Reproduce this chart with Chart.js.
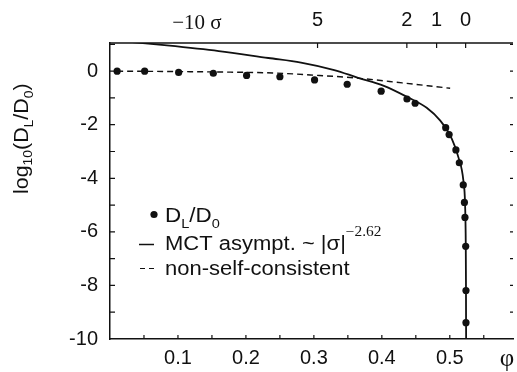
<!DOCTYPE html>
<html>
<head>
<meta charset="utf-8">
<script src="https://cdn.jsdelivr.net/npm/chart.js@4"></script>
<style>
  body { margin: 0; background: #fff; }
  canvas { display: block; }
</style>
</head>
<body>
<canvas id="c" width="517" height="372"></canvas>
<script>
// measured points D_L/D_0
const phiData = [0.0105, 0.051, 0.101, 0.152, 0.201, 0.250, 0.301, 0.349, 0.399, 0.437, 0.449, 0.494, 0.499, 0.509, 0.514, 0.5198, 0.5215, 0.5223, 0.5234, 0.5238, 0.5238];
const logData = [0.0, 0.0, -0.05, -0.08, -0.16, -0.21, -0.33, -0.49, -0.75, -1.04, -1.20, -2.11, -2.37, -2.94, -3.42, -4.25, -4.90, -5.46, -6.54, -8.19, -9.39];

// MCT asymptote (solid)
const mctPhi = [0.0, 0.08, 0.16, 0.233, 0.281, 0.330, 0.364, 0.403, 0.437, 0.466, 0.486, 0.503, 0.5127, 0.520, 0.5225, 0.5235, 0.5238, 0.524];
const mctLog = [1.16, 0.97, 0.75, 0.49, 0.32, 0.04, -0.24, -0.55, -0.96, -1.37, -1.85, -2.53, -3.22, -4.09, -5.0, -6.5, -8.0, -10.0];

// non-self-consistent (dashed)
const ncPhi = [0.0105, 0.15, 0.24, 0.30, 0.364, 0.43, 0.5005];
const ncLog = [0.0, -0.03, -0.07, -0.15, -0.26, -0.44, -0.64];

// axes
const xTickValues = [0.1, 0.2, 0.3, 0.4, 0.5];
const yTickValues = [-10, -8, -6, -4, -2, 0];
const topTickLabels = ['5', '2', '1', '0'];
const topTickPhi = [0.3054, 0.4368, 0.4806, 0.5233];
const topTitle = '\u221210 \u03c3';
const topTitlePhi = 0.128;

const ink = '#111';
const sans = '"Liberation Sans", Arial, Helvetica, sans-serif';
const serif = '"Liberation Serif", "Times New Roman", serif';

function pts(xs, ys) {
    return xs.map((x, i) => ({ x: x, y: ys[i] }));
}

// draws a run of text pieces (with sub/superscripts), slightly widened like the scan
function richText(ctx, x, y, parts, sx) {
    ctx.save();
    ctx.translate(x, y);
    ctx.scale(sx || 1, 1);
    let cx = 0;
    parts.forEach(p => {
        ctx.font = (p.size || 20) + 'px ' + (p.font || sans);
        ctx.fillText(p.t, cx, p.dy || 0);
        cx += ctx.measureText(p.t).width;
    });
    ctx.restore();
}

const decor = {
    id: 'decor',
    afterDraw(chart) {
        const ctx = chart.ctx;
        const xs = chart.scales.x, ys = chart.scales.y;
        const a = chart.chartArea;
        ctx.save();
        ctx.strokeStyle = ink;
        ctx.fillStyle = ink;
        ctx.lineWidth = 1.5;

        // top frame
        ctx.beginPath();
        ctx.moveTo(a.left, a.top);
        ctx.lineTo(a.right, a.top);
        ctx.stroke();

        ctx.lineWidth = 1.2;
        ctx.beginPath();
        // bottom minor ticks
        for (let v = 0.05; v < xs.max; v += 0.05) {
            const px = xs.getPixelForValue(v);
            ctx.moveTo(px, a.bottom);
            ctx.lineTo(px, a.bottom - 4);
        }
        // left and right ticks
        for (let v = -9; v <= 1; v++) {
            const py = ys.getPixelForValue(v);
            ctx.moveTo(a.left, py);
            ctx.lineTo(a.left + 5, py);
            ctx.moveTo(a.right, py);
            ctx.lineTo(a.right - 3, py);
        }
        // top sigma ticks
        topTickPhi.forEach(v => {
            const px = xs.getPixelForValue(v);
            ctx.moveTo(px, a.top);
            ctx.lineTo(px, a.top + 5);
        });
        ctx.stroke();

        // top sigma labels
        ctx.textAlign = 'center';
        ctx.textBaseline = 'alphabetic';
        ctx.font = '20px ' + sans;
        topTickLabels.forEach((t, i) => {
            ctx.fillText(t, xs.getPixelForValue(topTickPhi[i]), 26);
        });
        ctx.font = '21px ' + serif;
        ctx.fillText(topTitle, xs.getPixelForValue(topTitlePhi), 29);

        // x axis title
        ctx.font = '25px ' + serif;
        ctx.fillText('\u03c6', 507, 366);

        // y axis title, rotated
        ctx.save();
        ctx.translate(28, 194);
        ctx.rotate(-Math.PI / 2);
        ctx.textAlign = 'left';
        richText(ctx, 0, 0, [
            { t: 'log', size: 20 },
            { t: '10', size: 13, dy: 4 },
            { t: '(D', size: 20 },
            { t: 'L', size: 13, dy: 5 },
            { t: '/D', size: 20 },
            { t: '0', size: 13, dy: 5 },
            { t: ')', size: 20 }
        ], 1.07);
        ctx.restore();

        // legend
        ctx.textAlign = 'left';
        ctx.beginPath();
        ctx.arc(154, 214.5, 3.6, 0, Math.PI * 2);
        ctx.fill();
        richText(ctx, 165, 222, [
            { t: 'D', size: 20 },
            { t: 'L', size: 13, dy: 6 },
            { t: '/D', size: 20 },
            { t: '0', size: 13, dy: 6 }
        ], 1.12);

        ctx.lineWidth = 1.5;
        ctx.beginPath();
        ctx.moveTo(139, 244.5);
        ctx.lineTo(154, 244.5);
        ctx.stroke();
        richText(ctx, 165, 250, [
            { t: 'MCT asympt. ~ |\u03c3|', size: 20 },
            { t: '\u22122.62', size: 14, font: serif, dy: -14 }
        ], 1.1);

        ctx.lineWidth = 1.2;
        ctx.beginPath();
        ctx.moveTo(140, 268.5);
        ctx.lineTo(145, 268.5);
        ctx.moveTo(149, 268.5);
        ctx.lineTo(154, 268.5);
        ctx.stroke();
        richText(ctx, 165, 275, [
            { t: 'non-self-consistent', size: 20 }
        ], 1.1);

        ctx.restore();
    }
};

new Chart(document.getElementById('c'), {
    type: 'scatter',
    data: {
        datasets: [{
            label: 'D_L/D_0',
            data: pts(phiData, logData),
            pointRadius: 3.6,
            pointBackgroundColor: ink,
            pointBorderColor: ink,
            pointBorderWidth: 0,
            showLine: false
        }, {
            label: 'MCT asympt.',
            data: pts(mctPhi, mctLog),
            showLine: true,
            borderColor: ink,
            borderWidth: 1.8,
            pointRadius: 0,
            cubicInterpolationMode: 'monotone'
        }, {
            label: 'non-self-consistent',
            data: pts(ncPhi, ncLog),
            showLine: true,
            borderColor: ink,
            borderWidth: 1.4,
            borderDash: [6, 4],
            pointRadius: 0,
            cubicInterpolationMode: 'monotone'
        }]
    },
    options: {
        responsive: false,
        animation: false,
        devicePixelRatio: 1,
        layout: { padding: { top: 43, left: 0, right: 0, bottom: 0 } },
        plugins: { legend: { display: false }, tooltip: { enabled: false } },
        scales: {
            x: {
                type: 'linear',
                min: 0,
                max: 0.593,
                grid: { display: false, drawTicks: false },
                border: { display: true, color: ink, width: 1.5 },
                afterBuildTicks: s => { s.ticks = xTickValues.map(v => ({ value: v })); },
                afterFit: s => { s.height = 33; },
                ticks: {
                    color: ink,
                    padding: 7,
                    autoSkip: false,
                    maxRotation: 0,
                    font: { family: sans, size: 20 },
                    callback: v => v.toFixed(1)
                }
            },
            y: {
                type: 'linear',
                min: -10,
                max: 1.05,
                grid: { display: false, drawTicks: false },
                border: { display: true, color: ink, width: 1.5 },
                afterBuildTicks: s => { s.ticks = yTickValues.map(v => ({ value: v })); },
                afterFit: s => { s.width = 110; },
                ticks: {
                    color: ink,
                    padding: 12,
                    font: { family: sans, size: 20 },
                    callback: v => String(v)
                }
            }
        }
    },
    plugins: [decor]
});
</script>
</body>
</html>
